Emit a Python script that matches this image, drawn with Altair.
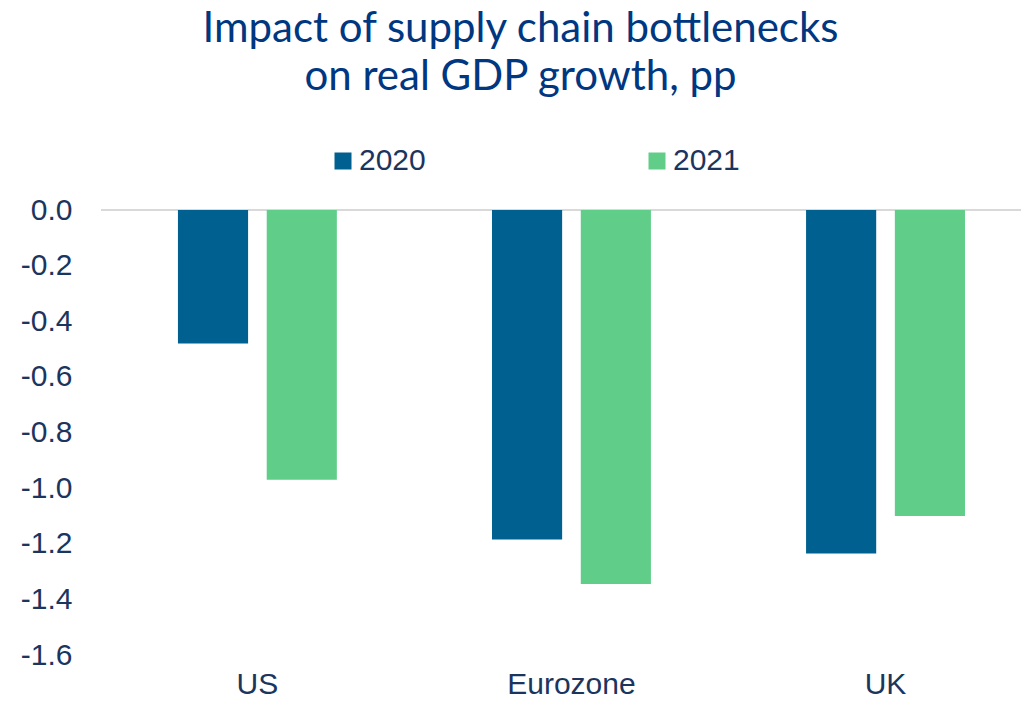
import altair as alt
import pandas as pd

regions = ["US", "Eurozone", "UK"]
years = ["2020", "2021"]
values_2020 = [-0.48, -1.185, -1.235]
values_2021 = [-0.97, -1.345, -1.10]
y_ticks = [0.0, -0.2, -0.4, -0.6, -0.8, -1.0, -1.2, -1.4, -1.6]
colors = ["#00608f", "#60cd89"]

rows = []
for i, r in enumerate(regions):
    rows.append({"region": r, "year": "2020", "value": values_2020[i]})
    rows.append({"region": r, "year": "2021", "value": values_2021[i]})
df = pd.DataFrame(rows)

W = 907
H = 445
navy = "#1c355e"

zero = alt.Chart(pd.DataFrame({"v": [0]})).mark_rule(color="#d9d9d9", strokeWidth=2).encode(
    y=alt.Y("v:Q", scale=alt.Scale(domain=[-1.6, 0], nice=False, zero=False)),
    x=alt.value(-13),
    x2=alt.value(W),
)

bars = alt.Chart(df).mark_bar().encode(
    x=alt.X("region:N", sort=regions,
            scale=alt.Scale(paddingInner=0.494, paddingOuter=0.191, align=0.533),
            axis=alt.Axis(title=None, labelAngle=0, labelFontSize=30, labelColor=navy,
                          labelFont="Liberation Sans", ticks=False, domain=False,
                          labelPadding=14, labelBaseline="top")),
    xOffset=alt.XOffset("year:N", sort=years,
                        scale=alt.Scale(paddingInner=0.21, paddingOuter=0)),
    y=alt.Y("value:Q", scale=alt.Scale(domain=[-1.6, 0], nice=False, zero=False),
            axis=alt.Axis(title=None, values=y_ticks, grid=False, ticks=False, domain=False,
                          labelFontSize=30, labelColor=navy, labelFont="Liberation Sans",
                          labelPadding=42,
                          labelExpr="replace(format(datum.value, '.1f'), '\u2212', '-')")),
    color=alt.Color("year:N", sort=years,
                    scale=alt.Scale(domain=years, range=colors),
                    legend=alt.Legend(title=None, orient="none", legendX=214, legendY=-64,
                                      direction="horizontal", symbolType="square",
                                      symbolSize=289, symbolStrokeWidth=0, padding=0,
                                      labelFontSize=30, labelColor=navy,
                                      labelFont="Liberation Sans", labelOffset=1,
                                      columnPadding=216)),
)

chart = alt.layer(zero, bars).properties(
    width=W,
    height=H,
    autosize=alt.AutoSizeParams(type="none"),
    padding={"left": 106, "top": 202, "right": 0, "bottom": 43},
    title=alt.TitleParams(
        text=["Impact of supply chain bottlenecks", "on real GDP growth, pp"],
        font="Lato", fontSize=42, fontWeight="normal", color="#003781",
        anchor="middle", dx=-47, lineHeight=48, offset=47,
    ),
).configure_view(stroke=None)

chart.save("out.html", embed_options={"renderer": "svg", "actions": False})
